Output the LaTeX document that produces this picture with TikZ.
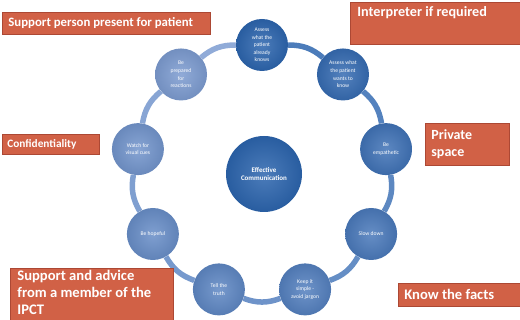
\documentclass[tikz,border=0pt]{standalone}
\usepackage{fontspec}
\setmainfont{Carlito}
\usetikzlibrary{calc}

\definecolor{ringdark}{RGB}{44,101,174}
\definecolor{ringlight}{RGB}{128,158,210}
\definecolor{notefill}{RGB}{209,97,70}
\definecolor{noteedge}{RGB}{172,72,52}

\begin{document}
\begin{tikzpicture}[x=1pt,y=1pt,
	stepnode/.style={circle,minimum size=52pt,inner sep=0pt,align=center,text=white,font=\fontsize{5.6}{7.6}\selectfont},
	hubnode/.style={circle,minimum size=76pt,align=center,text=white,font=\fontsize{7}{8.4}\selectfont\bfseries,inner color=ringdark!85!white,outer color=ringdark!92!black},
	ringline/.style={line width=5.5pt},
	note/.style={anchor=north west,fill=notefill,draw=noteedge,line width=0.8pt,text=white,inner sep=0pt,align=left}]
	\clip (0,0) rectangle (520,320);

	% hub and the nine steps round it
	\coordinate (ringmid) at (262,149);
	\node[hubnode] (hub) at (264,146) {Effective\\Communication};
	\foreach \i/\txt in {1/{Assess\\what the\\patient\\already\\knows},2/{Assess what\\the patient\\wants to\\know},3/{Be\\empathetic},4/{Slow down},5/{Keep it\\simple -\\avoid jargon},6/{Tell the\\truth},7/{Be hopeful},8/{Watch for\\visual cues},9/{Be\\prepared\\for\\reactions}}{
		\pgfmathsetmacro\ang{90-40*(\i-1)}
		\pgfmathtruncatemacro\mixv{100-(\i-1)*12}
		\colorlet{stepcol}{ringdark!\mixv!ringlight}
		\node[stepnode,inner color=stepcol!85!white,outer color=stepcol!92!black] (s\i) at ($(ringmid)+(\ang:126)$) {\txt};
	}
	\foreach \i in {1,...,9}{
		\pgfmathtruncatemacro\nxt{mod(\i,9)+1}
		\pgfmathtruncatemacro\mixv{100-(\i-1)*12}
		\draw[ringline,color=ringdark!\mixv!ringlight!85!white] (s\i) to[bend left=20] (s\nxt);
	}

	% notes
	\node[note] (person) at (2,308) {\parbox[t][22pt][c]{208pt}{\hspace*{6pt}\fontsize{12.8}{15}\bfseries Support person present for patient}};
	\node[note] (interp) at (350,318) {\parbox[t][42pt][t]{172pt}{\vspace*{4pt}\hspace*{7pt}\fontsize{14.2}{17}\bfseries Interpreter if required}};
	\node[note] (conf) at (2,186) {\parbox[t][20pt][c]{97pt}{\hspace*{5pt}\fontsize{11.3}{13}\bfseries Confidentiality}};
	\node[note] (private) at (425,197) {\parbox[t][42pt][c]{84pt}{\leftskip=6pt\fontsize{14}{17}\bfseries Private\\space}};
	\node[note] (advice) at (10,52) {\parbox[t][60pt][t]{163pt}{\vspace*{2pt}\leftskip=7pt\fontsize{14.6}{17}\bfseries Support and advice\\from a member of the\\IPCT}};
	\node[note] (facts) at (398,37) {\parbox[t][23pt][c]{124pt}{\hspace*{6pt}\fontsize{14.6}{17}\bfseries Know the facts}};
\end{tikzpicture}
\end{document}
